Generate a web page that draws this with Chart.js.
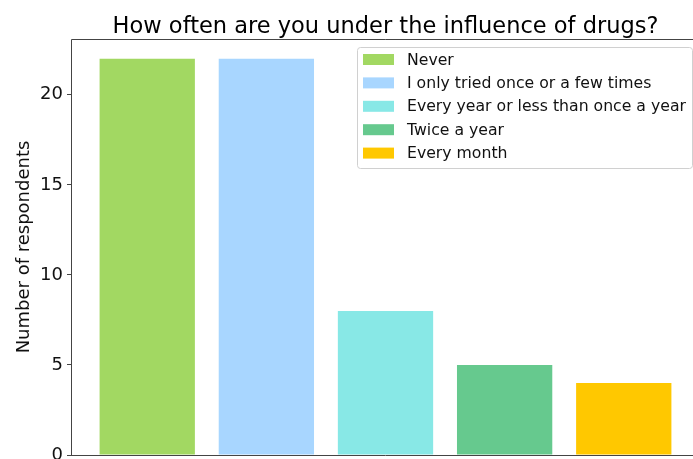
<!DOCTYPE html>
<html>
<head>
<meta charset="utf-8">
<script src="https://cdn.jsdelivr.net/npm/chart.js@4"></script>
<style>
  html, body { margin: 0; padding: 0; overflow: hidden; background: #fff; }
  #wrap { width: 712px; height: 478px; }
</style>
</head>
<body>
<div id="wrap"><canvas id="drugChart"></canvas></div>
<script>
// chart data
const categories = ['Never', 'I only tried once or a few times', 'Every year or less than once a year', 'Twice a year', 'Every month'];
const respondents = [22, 22, 8, 5, 4];
const barColors = ['#a2d862', '#a8d6ff', '#88e8e6', '#66c98e', '#ffc800'];
const yTicks = [0, 5, 10, 15, 20];

const FONT = '"DejaVu Sans", sans-serif';

// one dataset per answer so every bar keeps its own colour and legend entry
const datasets = categories.map((label, i) => ({
    label: label,
    data: [{ x: i, y: respondents[i] }],
    backgroundColor: barColors[i],
    borderWidth: 0,
    grouped: false,
    categoryPercentage: 1,
    barPercentage: 0.8
}));

// title, frame and legend drawn like the original figure
const figurePlugin = {
    id: 'figurePlugin',
    afterDraw(chart) {
        const ctx = chart.ctx;
        const area = chart.chartArea;
        ctx.save();

        ctx.fillStyle = '#000';
        ctx.font = '22.5px ' + FONT;
        ctx.textAlign = 'center';
        ctx.textBaseline = 'alphabetic';
        ctx.fillText('How often are you under the influence of drugs?', (area.left + area.right) / 2, 33);

        ctx.strokeStyle = '#444';
        ctx.lineWidth = 1;
        ctx.beginPath();
        ctx.moveTo(area.left + 0.5, area.bottom + 0.5);
        ctx.lineTo(area.left + 0.5, area.top + 0.5);
        ctx.lineTo(area.right, area.top + 0.5);
        ctx.moveTo(area.left, area.bottom + 0.5);
        ctx.lineTo(area.right, area.bottom + 0.5);
        ctx.stroke();

        // legend box
        const boxX = 357, boxY = 47, boxW = 335, boxH = 121;
        ctx.fillStyle = 'rgba(255,255,255,0.85)';
        ctx.strokeStyle = '#d0d0d0';
        ctx.beginPath();
        ctx.roundRect(boxX + 0.5, boxY + 0.5, boxW, boxH, 3);
        ctx.fill();
        ctx.stroke();

        ctx.font = '15.7px ' + FONT;
        ctx.textAlign = 'left';
        ctx.textBaseline = 'middle';
        categories.forEach((label, i) => {
            const rowY = 59.5 + i * 23.4;
            ctx.fillStyle = barColors[i];
            ctx.fillRect(363, rowY - 5.5, 31, 11);
            ctx.fillStyle = '#111';
            ctx.fillText(label, 407, rowY + 1);
        });
        ctx.restore();
    }
};

new Chart(document.getElementById('drugChart'), {
    type: 'bar',
    data: { datasets: datasets },
    options: {
        responsive: true,
        maintainAspectRatio: false,
        animation: false,
        layout: { padding: { top: 39, right: 12, bottom: 23, left: 0 } },
        plugins: {
            legend: { display: false },
            tooltip: { enabled: false }
        },
        scales: {
            x: {
                type: 'linear',
                display: false,
                offset: false,
                min: -0.64,
                max: 4.64,
                afterBuildTicks(scale) { scale.ticks = categories.map((c, i) => ({ value: i })); }
            },
            y: {
                min: 0,
                max: 23.1,
                afterFit(scale) { scale.width = 71; },
                afterBuildTicks(scale) { scale.ticks = yTicks.map(v => ({ value: v })); },
                border: { display: false },
                grid: {
                    drawOnChartArea: false,
                    drawTicks: true,
                    tickLength: 4,
                    color: '#444'
                },
                ticks: {
                    color: '#111',
                    padding: 4,
                    font: { family: FONT, size: 18 }
                },
                title: {
                    display: true,
                    text: 'Number of respondents',
                    color: '#111',
                    padding: { top: 14, bottom: 4 },
                    font: { family: FONT, size: 18 }
                }
            }
        }
    },
    plugins: [figurePlugin]
});
</script>
</body>
</html>
